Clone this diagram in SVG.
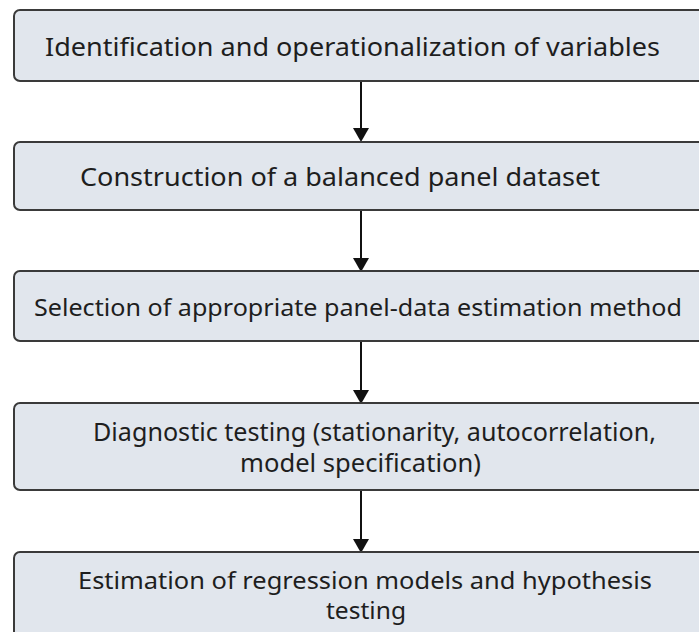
<svg xmlns="http://www.w3.org/2000/svg" width="699" height="632" viewBox="0 0 699 632">
<defs>
<style>
.box{fill:#e1e6ed;stroke:#3a3a3a;stroke-width:2}
.t{font-family:"Noto Sans","Open Sans","DejaVu Sans",sans-serif;font-size:26px;fill:#1e1e1e}
.t2{font-family:"Noto Sans","Open Sans","DejaVu Sans",sans-serif;font-size:25px;fill:#1e1e1e}
.t3{font-family:"Noto Sans","Open Sans","DejaVu Sans",sans-serif;font-size:24px;fill:#1e1e1e}
.c{stroke:#111;stroke-width:2;fill:none}
</style>
</defs>
<rect width="699" height="632" fill="#ffffff"/>
<g id="connectors">
<line class="c" x1="361" y1="81" x2="361" y2="128"/><path d="M353,128 L369,128 L361,142 Z" fill="#111"/>
<line class="c" x1="361" y1="210" x2="361" y2="258"/><path d="M353,258 L369,258 L361,272 Z" fill="#111"/>
<line class="c" x1="361" y1="341" x2="361" y2="390"/><path d="M353,390 L369,390 L361,404 Z" fill="#111"/>
<line class="c" x1="361" y1="490" x2="361" y2="539"/><path d="M353,539 L369,539 L361,553 Z" fill="#111"/>
</g>
<g id="node1">
<rect class="box" x="14" y="10" width="720" height="71" rx="6"/>
<text class="t" x="45" y="56" textLength="615" lengthAdjust="spacingAndGlyphs">Identification and operationalization of variables</text>
</g>
<g id="node2">
<rect class="box" x="14" y="142" width="720" height="68" rx="6"/>
<text class="t" x="80" y="186" textLength="520" lengthAdjust="spacingAndGlyphs">Construction of a balanced panel dataset</text>
</g>
<g id="node3">
<rect class="box" x="14" y="271" width="720" height="70" rx="6"/>
<text class="t3" x="34" y="316" textLength="648" lengthAdjust="spacingAndGlyphs">Selection of appropriate panel-data estimation method</text>
</g>
<g id="node4">
<rect class="box" x="14" y="403" width="720" height="87" rx="6"/>
<text class="t2" x="93" y="441" textLength="563" lengthAdjust="spacingAndGlyphs">Diagnostic testing (stationarity, autocorrelation,</text>
<text class="t2" x="240" y="472" textLength="241" lengthAdjust="spacingAndGlyphs">model specification)</text>
</g>
<g id="node5">
<rect class="box" x="14" y="552" width="720" height="100" rx="6"/>
<text class="t3" x="78" y="589" textLength="574" lengthAdjust="spacingAndGlyphs">Estimation of regression models and hypothesis</text>
<text class="t3" x="326" y="619" textLength="80" lengthAdjust="spacingAndGlyphs">testing</text>
</g>
</svg>
